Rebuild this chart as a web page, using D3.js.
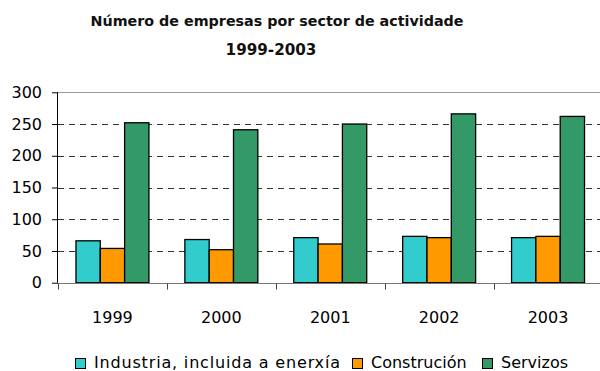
<!DOCTYPE html>
<html>
<head>
<meta charset="utf-8">
<script src="https://cdn.jsdelivr.net/npm/d3@7"></script>
<style>
  html, body { margin: 0; padding: 0; background: #fff; }
  svg { display: block; font-family: "DejaVu Sans", sans-serif; }
</style>
</head>
<body>
<svg id="chart" width="600" height="371"></svg>
<script>
// Number of companies by sector, 1999-2003
const years = ["1999", "2000", "2001", "2002", "2003"];
const seriesNames = ["Industria, incluida a enerxía", "Construción", "Servizos"];
const industria = [66, 68, 71, 73, 71];
const construcion = [54, 52, 61, 71, 73];
const servizos = [252, 241, 250, 266, 262];
const yTicks = [0, 50, 100, 150, 200, 250, 300];
const colors = ["#33CCCC", "#FF9900", "#339966"];

const seriesValues = [industria, construcion, servizos];
const rows = years.map((y, i) => ({
  year: y,
  values: seriesNames.map((s, j) => ({ key: s, value: seriesValues[j][i], color: colors[j] }))
}));

const svg = d3.select("#chart");
const plot = { left: 58, right: 602.5, top: 92.3, bottom: 282.7 };

const x0 = d3.scaleBand()
  .domain(years)
  .range([plot.left, plot.right])
  .paddingInner(0.33)
  .paddingOuter(0.165);

const x1 = d3.scaleBand()
  .domain(seriesNames)
  .range([0, x0.bandwidth()]);

const y = d3.scaleLinear()
  .domain([0, 300])
  .range([plot.bottom, plot.top]);

// Title
const title = svg.append("text")
  .attr("text-anchor", "middle")
  .attr("font-size", 14.3)
  .attr("font-weight", "bold")
  .attr("fill", "#111");
title.append("tspan").attr("x", 277).attr("y", 26).text("Número de empresas por sector de actividade");
title.append("tspan").attr("x", 271).attr("y", 55).attr("font-size", 15.2).text("1999-2003");

// Horizontal gridlines (dashed), top border solid
svg.append("g")
  .selectAll("line")
  .data(yTicks.filter(t => t > 0 && t < 300))
  .join("line")
  .attr("x1", plot.left)
  .attr("x2", plot.right)
  .attr("y1", d => Math.round(y(d)) + 0.5)
  .attr("y2", d => Math.round(y(d)) + 0.5)
  .attr("stroke", "#333")
  .attr("stroke-width", 1)
  .attr("stroke-dasharray", "6,5");

svg.append("line")
  .attr("x1", plot.left).attr("x2", plot.right)
  .attr("y1", Math.round(y(300)) + 0.5).attr("y2", Math.round(y(300)) + 0.5)
  .attr("stroke", "#999").attr("stroke-width", 1);

// Bars
const groups = svg.append("g")
  .selectAll("g")
  .data(rows)
  .join("g")
  .attr("transform", d => `translate(${x0(d.year)},0)`);

groups.selectAll("rect")
  .data(d => d.values)
  .join("rect")
  .attr("x", d => x1(d.key))
  .attr("y", d => y(d.value))
  .attr("width", x1.bandwidth())
  .attr("height", d => y(0) - y(d.value))
  .attr("fill", d => d.color)
  .attr("stroke", "#000")
  .attr("stroke-width", 1.3);

// Y axis
const yAxis = svg.append("g")
  .attr("transform", `translate(${plot.left},0)`)
  .call(d3.axisLeft(y).tickValues(yTicks).tickSize(6).tickPadding(10));
yAxis.select(".domain").attr("stroke", "#000").attr("d", `M-0.5,${plot.top}V${plot.bottom}`);
yAxis.selectAll(".tick line").attr("stroke", "#000");
yAxis.selectAll(".tick text").attr("font-size", 16).attr("fill", "#000")
  .attr("font-family", "DejaVu Sans, sans-serif");

// X axis: baseline, boundary ticks and year labels
const xBase = Math.round(y(0)) + 0.5;
svg.append("line")
  .attr("x1", plot.left).attr("x2", plot.right)
  .attr("y1", xBase).attr("y2", xBase)
  .attr("stroke", "#777").attr("stroke-width", 1);

const step = x0.step();
svg.append("g")
  .selectAll("line")
  .data(years)
  .join("line")
  .attr("x1", d => Math.round(x0(d) - x0.paddingOuter() * step) + 0.5)
  .attr("x2", d => Math.round(x0(d) - x0.paddingOuter() * step) + 0.5)
  .attr("y1", xBase)
  .attr("y2", xBase + 6)
  .attr("stroke", "#444");

svg.append("g")
  .selectAll("text")
  .data(years)
  .join("text")
  .attr("x", d => x0(d) + x0.bandwidth() / 2)
  .attr("y", 323)
  .attr("text-anchor", "middle")
  .attr("font-size", 16)
  .attr("fill", "#000")
  .text(d => d);

// Legend
const legendX = [75, 352, 482];
const legendTextWidth = [246, null, null];
const legend = svg.append("g")
  .selectAll("g")
  .data(seriesNames)
  .join("g")
  .attr("transform", (d, i) => `translate(${legendX[i]},358)`);
legend.append("rect")
  .attr("x", 0.5).attr("y", 0.5)
  .attr("width", 10).attr("height", 10)
  .attr("fill", (d, i) => colors[i])
  .attr("stroke", "#000").attr("stroke-width", 1);
legend.append("text")
  .attr("x", 19)
  .attr("y", 10)
  .attr("font-size", 16)
  .attr("fill", "#000")
  .each(function (d, i) {
    if (legendTextWidth[i]) {
      d3.select(this).attr("textLength", legendTextWidth[i]).attr("lengthAdjust", "spacing");
    }
  })
  .text(d => d);
</script>
</body>
</html>
